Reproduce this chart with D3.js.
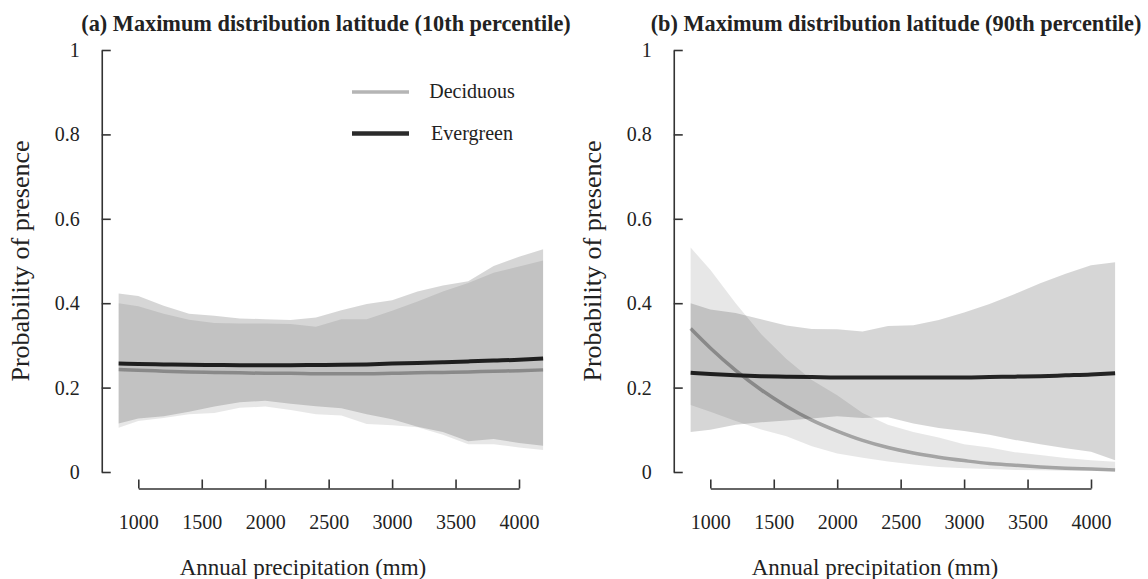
<!DOCTYPE html>
<html><head><meta charset="utf-8">
<script src="https://cdn.jsdelivr.net/npm/d3@7"></script>
<style>body{margin:0;background:#fff}svg{display:block}text{font-family:"Liberation Serif","Times New Roman",serif;fill:#222}</style>
</head><body><svg id="c" width="1148" height="579"></svg>
<script>
// precipitation grid (mm)
const precip = [845,1000,1200,1400,1600,1800,2000,2200,2400,2600,2800,3000,3200,3400,3600,3800,4000,4190];
const xTicks = [1000,1500,2000,2500,3000,3500,4000];
const yTicks = [0,0.2,0.4,0.6,0.8,1];
const yTickLabels = ["0","0.2","0.4","0.6","0.8","1"];
const seriesNames = ["Deciduous","Evergreen"];
const panelTitles = ["(a) Maximum distribution latitude (10th percentile)","(b) Maximum distribution latitude (90th percentile)"];

// Panel (a) 10th percentile
const aDecFit   = [0.243,0.241,0.239,0.237,0.236,0.235,0.234,0.234,0.233,0.233,0.233,0.234,0.235,0.236,0.237,0.239,0.240,0.242];
const aDecLow   = [0.105,0.121,0.128,0.137,0.140,0.152,0.155,0.147,0.137,0.134,0.114,0.111,0.106,0.088,0.066,0.066,0.058,0.052];
const aDecHigh  = [0.400,0.393,0.375,0.361,0.353,0.352,0.352,0.351,0.344,0.362,0.362,0.382,0.404,0.428,0.448,0.472,0.487,0.501];
const aEvFit    = [0.257,0.256,0.255,0.254,0.2535,0.253,0.253,0.253,0.2535,0.254,0.255,0.257,0.258,0.260,0.262,0.264,0.266,0.269];
const aEvLow    = [0.115,0.127,0.132,0.143,0.155,0.165,0.169,0.162,0.156,0.151,0.137,0.125,0.107,0.095,0.073,0.078,0.069,0.062];
const aEvHigh   = [0.423,0.417,0.394,0.375,0.370,0.364,0.362,0.360,0.366,0.383,0.398,0.407,0.428,0.442,0.452,0.488,0.510,0.528];

// Panel (b) 90th percentile
const bDecFit   = [0.340,0.294,0.241,0.195,0.156,0.123,0.097,0.075,0.058,0.045,0.035,0.027,0.020,0.016,0.012,0.009,0.007,0.005];
const bDecLow   = [0.159,0.143,0.121,0.101,0.085,0.061,0.044,0.034,0.025,0.018,0.012,0.009,0.007,0.005,0.004,0.003,0.003,0.002];
const bDecHigh  = [0.532,0.479,0.400,0.327,0.268,0.218,0.182,0.140,0.112,0.095,0.082,0.066,0.058,0.047,0.040,0.033,0.028,0.024];
const bEvFit    = [0.235,0.232,0.229,0.227,0.226,0.225,0.224,0.224,0.224,0.224,0.224,0.224,0.225,0.226,0.227,0.229,0.231,0.234];
const bEvLow    = [0.095,0.100,0.112,0.118,0.122,0.127,0.132,0.128,0.130,0.115,0.104,0.097,0.088,0.076,0.066,0.056,0.048,0.028];
const bEvHigh   = [0.400,0.385,0.377,0.362,0.347,0.339,0.338,0.333,0.346,0.348,0.360,0.378,0.398,0.422,0.447,0.470,0.490,0.497];

const panels = [
  {off:0, titleX:326, title:panelTitles[0], dec:[aDecFit,aDecLow,aDecHigh], ev:[aEvFit,aEvLow,aEvHigh], legend:true},
  {off:572, titleX:324, title:panelTitles[1], dec:[bDecFit,bDecLow,bDecHigh], ev:[bEvFit,bEvLow,bEvHigh], legend:false}
];

const svg = d3.select("#c");
const y = d3.scaleLinear().domain([0,1]).range([472,50]);
const decColor = "#b5b5b5", evColor = "#2b2b2b", axisColor = "#333";

panels.forEach(p => {
  const g = svg.append("g").attr("transform",`translate(${p.off},0)`);
  const x = d3.scaleLinear().domain([1000,4000]).range([138.3,519]);
  const yAxisX = x(712);

  const line = arr => d3.line().x((d,i)=>x(precip[i])).y(d=>y(d)).curve(d3.curveMonotoneX)(arr);
  const area = (lo,hi) => d3.area().x((d,i)=>x(precip[i])).y0((d,i)=>y(lo[i])).y1((d,i)=>y(hi[i]))(precip);

  // fitted lines (drawn beneath translucent bands)
  g.append("path").attr("d",line(p.dec[0])).attr("fill","none").attr("stroke",decColor).attr("stroke-width",3.5);
  g.append("path").attr("d",line(p.ev[0])).attr("fill","none").attr("stroke",evColor).attr("stroke-width",4);
  // confidence bands
  g.append("path").attr("d",area(p.dec[1],p.dec[2])).attr("fill","#000").attr("fill-opacity",0.095);
  g.append("path").attr("d",area(p.ev[1],p.ev[2])).attr("fill","#000").attr("fill-opacity",0.16);

  // y axis
  const ya = g.append("g").attr("transform",`translate(${yAxisX},0)`)
    .call(d3.axisRight(y).tickValues(yTicks).tickFormat((d,i)=>yTickLabels[i]).tickSize(9).tickSizeOuter(0));
  ya.select(".domain").attr("stroke",axisColor).attr("stroke-width",1.6);
  ya.selectAll(".tick line").attr("stroke",axisColor).attr("stroke-width",1.6);
  ya.selectAll(".tick text").attr("x",-22).attr("text-anchor","end").attr("font-size",20)
    .attr("font-family","Liberation Serif").attr("fill","#222").attr("dy","0.32em");

  // x axis
  const xa = g.append("g").attr("transform","translate(0,488.5)")
    .call(d3.axisTop(x).tickValues(xTicks).tickFormat(d3.format("d")).tickSize(9).tickSizeOuter(0));
  xa.select(".domain").attr("stroke",axisColor).attr("stroke-width",1.6);
  xa.selectAll(".tick line").attr("stroke",axisColor).attr("stroke-width",1.6);
  xa.selectAll(".tick text").attr("y",34).attr("dy","0.32em").attr("font-size",20)
    .attr("font-family","Liberation Serif").attr("fill","#222");

  // titles
  g.append("text").attr("x",p.titleX).attr("y",23).attr("dy","0.35em").attr("text-anchor","middle")
    .attr("font-size",22.3).attr("font-weight","bold").text(p.title);
  g.append("text").attr("x",303).attr("y",567).attr("dy","0.35em").attr("text-anchor","middle")
    .attr("font-size",23).text("Annual precipitation (mm)");
  g.append("text").attr("transform","translate(20,261) rotate(-90)").attr("dy","0.35em").attr("text-anchor","middle")
    .attr("font-size",26).text("Probability of presence");

  if (p.legend) {
    const lg = g.append("g");
    [[decColor,3.5,92],[evColor,4.5,133.5]].forEach((s,i)=>{
      lg.append("line").attr("x1",352).attr("x2",409).attr("y1",s[2]).attr("y2",s[2])
        .attr("stroke",s[0]).attr("stroke-width",s[1]);
      lg.append("text").attr("x",472).attr("y",s[2]).attr("dy","0.32em").attr("text-anchor","middle")
        .attr("font-size",20).text(seriesNames[i]);
    });
  }
});
</script></body></html>
